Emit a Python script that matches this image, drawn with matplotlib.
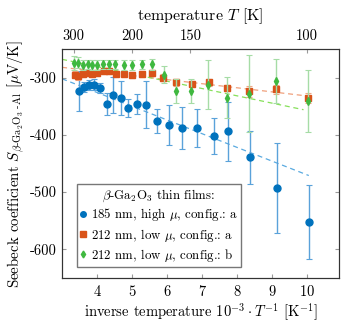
import matplotlib
matplotlib.use("Agg")
import matplotlib.pyplot as plt
from matplotlib.lines import Line2D

plt.rcParams['font.family'] = 'serif'
plt.rcParams['font.serif'] = ['cmr10', 'DejaVu Serif']
plt.rcParams['mathtext.fontset'] = 'cm'
plt.rcParams['axes.unicode_minus'] = False
plt.rcParams['axes.formatter.use_mathtext'] = True

# data
blue_x = [3.49, 3.63, 3.77, 3.91, 4.09, 4.28, 4.45, 4.67, 4.89, 5.14, 5.41, 5.72,
          6.05, 6.44, 6.85, 7.34, 7.73, 8.38, 9.14, 10.07]
blue_y = [-324, -316, -313, -312, -318, -346, -330, -336, -353, -346, -347, -375,
          -383, -388, -388, -402, -394, -439, -493, -552]
blue_err = [35, 9, 9, 9, 8, 19, 31, 30, 15, 17, 41, 21, 35, 37, 33, 32, 52, 46, 78, 64]

orange_x = [3.36, 3.46, 3.59, 3.71, 3.86, 4.0, 4.19, 4.35, 4.54, 4.76, 5.0, 5.27,
            5.57, 5.88, 6.26, 6.72, 7.21, 7.71, 8.34, 9.11, 10.02]
orange_y = [-295, -298, -294, -292, -293, -292, -289, -289, -293, -293, -296, -294,
            -292, -300, -308, -311, -308, -318, -324, -320, -335]
orange_err = [6, 6, 5, 5, 5, 5, 5, 5, 5, 5, 5, 5, 6, 6, 6, 6, 6, 6, 9, 8, 9]

green_x = [3.34, 3.45, 3.59, 3.73, 3.86, 4.0, 4.17, 4.35, 4.52, 4.76, 5.0, 5.29,
           5.58, 5.9, 6.26, 6.69, 7.18, 7.71, 8.34, 9.11, 10.02]
green_y = [-274, -274, -278, -277, -278, -278, -277, -277, -277, -278, -278, -277,
           -277, -295, -323, -324, -312, -335, -328, -306, -341]
green_err = [12, 10, 8, 8, 8, 8, 8, 8, 8, 8, 8, 8, 10, 15, 21, 21, 42, 36, 67, 38, 54]

# dashed fit lines (end points)
blue_fit_x = [3.0, 10.05]
blue_fit_y = [-302, -471]
orange_fit_x = [3.0, 10.0]
orange_fit_y = [-282, -332]
green_fit_x = [3.0, 9.9]
green_fit_y = [-268, -356]

top_temps = [300, 200, 150, 100]
labels = ['185 nm, high $\\mu$, config.: a',
          '212 nm, low $\\mu$, config.: a',
          '212 nm, low $\\mu$, config.: b']

fig = plt.figure(figsize=(3.43, 3.29), dpi=100)
ax = fig.add_axes([0.181, 0.155, 0.807, 0.696])

ax.plot(blue_fit_x, blue_fit_y, '--', color='#5aaae0', lw=0.9, dashes=(4, 3), zorder=1)
ax.plot(orange_fit_x, orange_fit_y, '--', color='#f0a07c', lw=0.9, dashes=(4, 3), zorder=1)
ax.plot(green_fit_x, green_fit_y, '--', color='#86e05a', lw=0.9, dashes=(4, 3), zorder=1)

ax.errorbar(blue_x, blue_y, yerr=blue_err, fmt='o', color='#0072BD', ms=5,
            ecolor='#5aa2da', elinewidth=1, capsize=2.5, capthick=0.8, zorder=3)
ax.errorbar(orange_x, orange_y, yerr=orange_err, fmt='s', color='#D95319', ms=5,
            ecolor='#f0a886', elinewidth=1, capsize=2.5, capthick=0.8, zorder=4)
ax.errorbar(green_x, green_y, yerr=green_err, fmt='d', color='#3fb83f', ms=4,
            ecolor='#a6dca6', elinewidth=1, capsize=2.5, capthick=0.8, zorder=5)

ax.set_xlim(3.0, 10.91)
ax.set_ylim(-650, -250)
ax.set_xticks([4, 5, 6, 7, 8, 9, 10])
ax.set_yticks([-300, -400, -500, -600])
ax.set_yticklabels(['-300', '-400', '-500', '-600'])
ax.tick_params(direction='in', length=3, color='#999999', labelsize=10.5,
               right=True, pad=4)
for s in ax.spines.values():
    s.set_color('#333333')
    s.set_linewidth(0.8)

ax.set_xlabel('inverse temperature $10^{-3}\\cdot T^{-1}$ [K$^{-1}$]', fontsize=10.5, labelpad=2)
ax.set_ylabel('Seebeck coefficient $S_{\\beta\\text{-Ga}_2\\text{O}_3\\ \\text{-Al}}$ [$\\mu$V/K]',
              fontsize=10.8, labelpad=2)

ax2 = ax.twiny()
ax2.set_xlim(ax.get_xlim())
ax2.set_xticks([1000 / t for t in top_temps])
ax2.set_xticklabels([str(t) for t in top_temps])
ax2.tick_params(direction='in', length=3, color='#999999', labelsize=10.5, pad=4)
ax2.set_xlabel('temperature $T$ [K]', fontsize=11.5, labelpad=7)
for s in ax2.spines.values():
    s.set_color('#333333')
    s.set_linewidth(0.8)

# legend shows markers only
handles = [
    Line2D([], [], ls='none', marker='o', color='#0072BD', ms=4),
    Line2D([], [], ls='none', marker='s', color='#D95319', ms=4),
    Line2D([], [], ls='none', marker='d', color='#3fb83f', ms=3.5),
]
leg = ax.legend(handles, labels, loc='lower left', bbox_to_anchor=(0.054, 0.048),
                fontsize=9.3, title='$\\beta$-Ga$_2$O$_3$ thin films:', title_fontsize=9.3,
                fancybox=False, edgecolor='#777777', framealpha=1,
                handlelength=0.5, handletextpad=0.3, borderpad=0.25,
                labelspacing=0.25, borderaxespad=0)
leg._legend_box.sep = 2

fig.savefig('out.png', dpi=100)
